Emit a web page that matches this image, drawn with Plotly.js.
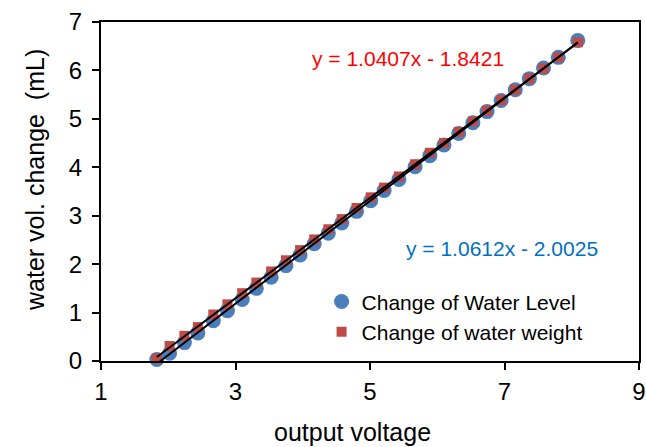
<!DOCTYPE html>
<html>
<head>
<meta charset="utf-8">
<script src="https://cdn.plot.ly/plotly-3.0.1.min.js"></script>
<style>html,body{margin:0;padding:0;background:#fff;}#chart{width:646px;height:447px;}</style>
</head>
<body>
<div id="chart"></div>
<script>
// Output voltage readings (shared x values)
var voltage = [1.83, 2.02, 2.24, 2.44, 2.67, 2.88, 3.10, 3.31, 3.53, 3.75,
               3.96, 4.17, 4.38, 4.58, 4.80, 5.01, 5.21, 5.43, 5.67, 5.89,
               6.10, 6.32, 6.53, 6.74, 6.95, 7.16, 7.37, 7.58, 7.80, 8.09];
// Change of Water Level (mL)
var levelChange = [0.03, 0.16, 0.38, 0.58, 0.83, 1.04, 1.27, 1.50, 1.73, 1.97,
                   2.19, 2.42, 2.64, 2.85, 3.09, 3.31, 3.52, 3.75, 4.01, 4.24,
                   4.46, 4.70, 4.92, 5.15, 5.38, 5.60, 5.83, 6.05, 6.27, 6.62];
// Change of water weight (mL)
var weightChange = [0.05, 0.31, 0.52, 0.70, 0.96, 1.17, 1.40, 1.62, 1.85, 2.08,
                    2.29, 2.51, 2.72, 2.93, 3.16, 3.38, 3.58, 3.81, 4.06, 4.30,
                    4.50, 4.73, 4.95, 5.17, 5.39, 5.60, 5.83, 6.04, 6.27, 6.58];
var seriesNames = ["Change of Water Level", "Change of water weight"];
var eqLevel = "y = 1.0612x - 2.0025";
var eqWeight = "y = 1.0407x - 1.8421";
var xTitle = "output voltage";
var yTitle = "water vol. change  (mL)";
var xTicks = [1, 3, 5, 7, 9];
var yTicks = [0, 1, 2, 3, 4, 5, 6, 7];

function fitLine(xs, ys) {
  var n = xs.length, sx = 0, sy = 0, sxx = 0, sxy = 0;
  for (var i = 0; i < n; i++) { sx += xs[i]; sy += ys[i]; sxx += xs[i]*xs[i]; sxy += xs[i]*ys[i]; }
  var m = (n*sxy - sx*sy) / (n*sxx - sx*sx);
  var b = (sy - m*sx) / n;
  var x0 = Math.min.apply(null, xs), x1 = Math.max.apply(null, xs);
  return {x: [x0, x1], y: [m*x0 + b, m*x1 + b]};
}
var fitL = fitLine(voltage, levelChange);
var fitW = fitLine(voltage, weightChange);

var FONT = "Arial, 'Liberation Sans', sans-serif";
var traces = [
  {x: voltage, y: levelChange, type: "scatter", mode: "markers", name: seriesNames[0],
   cliponaxis: false,
   marker: {symbol: "circle", size: 15, color: "#4A7EBB", line: {width: 0}}},
  {x: voltage, y: weightChange, type: "scatter", mode: "markers", name: seriesNames[1],
   cliponaxis: false,
   marker: {symbol: "square", size: 10, color: "#BE4B48", line: {width: 0}}},
  {x: fitL.x, y: fitL.y, type: "scatter", mode: "lines", showlegend: false, hoverinfo: "skip",
   line: {color: "#000", width: 2}},
  {x: fitW.x, y: fitW.y, type: "scatter", mode: "lines", showlegend: false, hoverinfo: "skip",
   line: {color: "#000", width: 2}}
];

var L = 101, T = 22, W = 538, H = 339;
function px(v) { return (v - L) / W; }
function py(v) { return (T + H - v) / H; }

var layout = {
  width: 646, height: 447,
  margin: {l: L, r: 646 - L - W, t: T, b: 447 - T - H},
  paper_bgcolor: "#fff", plot_bgcolor: "#fff",
  font: {family: FONT, size: 24, color: "#000"},
  showlegend: true,
  legend: {x: 0.41, y: 0.235, xanchor: "left", yanchor: "top",
           bgcolor: "rgba(0,0,0,0)", font: {size: 21, family: FONT}, tracegroupgap: 0,
           itemwidth: 30},
  xaxis: {range: [1, 9], tickvals: xTicks, ticks: "outside", ticklen: 7, tickwidth: 2,
          tickcolor: "#000", showline: true, linecolor: "#000", linewidth: 2, mirror: true,
          showgrid: false, zeroline: false, ticklabelstandoff: 1,
          tickfont: {size: 24, family: FONT}},
  yaxis: {range: [0, 7], tickvals: yTicks, ticks: "outside", ticklen: 7, tickwidth: 2,
          tickcolor: "#000", showline: true, linecolor: "#000", linewidth: 2, mirror: true,
          showgrid: false, zeroline: false, ticklabelstandoff: 5,
          tickfont: {size: 24, family: FONT}},
  annotations: [
    {text: xTitle, xref: "paper", yref: "paper", x: px(352), y: py(432),
     xanchor: "center", yanchor: "middle", showarrow: false,
     font: {size: 25, family: FONT, color: "#000"}},
    {text: yTitle, xref: "paper", yref: "paper", x: px(35), y: py(180), textangle: -90,
     xanchor: "center", yanchor: "middle", showarrow: false,
     font: {size: 25, family: FONT, color: "#000"}},
    {text: eqWeight, xref: "paper", yref: "paper", x: px(408), y: py(58),
     xanchor: "center", yanchor: "middle", showarrow: false,
     font: {size: 21, color: "#FF0000", family: FONT}},
    {text: eqLevel, xref: "paper", yref: "paper", x: px(502), y: py(248),
     xanchor: "center", yanchor: "middle", showarrow: false,
     font: {size: 21, color: "#0070C0", family: FONT}}
  ]
};
Plotly.newPlot("chart", traces, layout, {displayModeBar: false, staticPlot: true});
</script>
</body>
</html>
